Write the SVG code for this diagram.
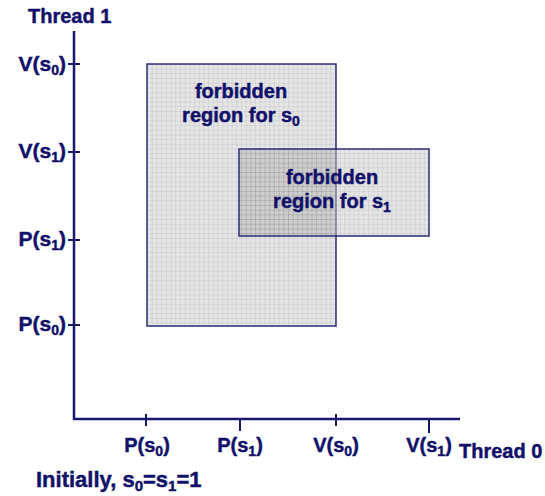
<svg xmlns="http://www.w3.org/2000/svg" width="545" height="496" viewBox="0 0 545 496">
  <style>
    text { font-family: "Liberation Sans", Arial, sans-serif; font-weight: bold; font-size: 20px; fill: #11116a; stroke: #11116a; stroke-width: 0.45; }
    .sub { font-size: 14px; }
    .lbl { font-size: 21px; }
    .axis { stroke: #17176e; stroke-width: 2.5; fill: none; }
    .tick { stroke: #17176e; stroke-width: 2; fill: none; }
    .region { stroke: #2b2b7a; stroke-width: 1.5; }
    .mid { text-anchor: middle; }
    .end { text-anchor: end; }
  </style>
  <defs>
    <pattern id="grid" patternUnits="userSpaceOnUse" x="147" y="64" width="4.7" height="4.7">
      <rect width="4.7" height="4.7" fill="#000" fill-opacity="0.1"/>
      <path d="M0 0H4.7M0 0V4.7" stroke="#000" stroke-opacity="0.16" stroke-width="0.8" fill="none"/>
    </pattern>
  </defs>
  <rect width="545" height="496" fill="#fff"/>

  <g id="region-s0">
    <rect class="region" x="147" y="64" width="189" height="262" fill="url(#grid)"/>
    <text class="mid" x="241" y="98">forbidden</text>
    <text class="mid" x="241" y="122">region for s<tspan class="sub" dy="4">0</tspan></text>
  </g>

  <g id="region-s1">
    <rect class="region" x="239" y="149" width="190" height="87" fill="url(#grid)"/>
    <line x1="336" y1="150" x2="336" y2="235" stroke="#c4c4c4" stroke-opacity="0.6" stroke-width="1.8"/>
    <text class="mid" x="332" y="184">forbidden</text>
    <text class="mid" x="332" y="208">region for s<tspan class="sub" dy="4">1</tspan></text>
  </g>

  <g id="axes">
    <path class="axis" d="M74 31V419H460"/>
    <path class="tick" d="M68 64H80M68 152H80M68 240H80M68 325H80"/>
    <path class="tick" d="M146 414V426M240 419V431M336 414V426M429 419V433"/>
  </g>

  <g id="thread1-labels">
    <text x="28" y="23">Thread 1</text>
    <text class="end lbl" x="66" y="71">V(s<tspan class="sub" dy="4">0</tspan><tspan dy="-4">)</tspan></text>
    <text class="end lbl" x="66" y="158">V(s<tspan class="sub" dy="4">1</tspan><tspan dy="-4">)</tspan></text>
    <text class="end lbl" x="66" y="246">P(s<tspan class="sub" dy="4">1</tspan><tspan dy="-4">)</tspan></text>
    <text class="end lbl" x="66" y="331">P(s<tspan class="sub" dy="4">0</tspan><tspan dy="-4">)</tspan></text>
  </g>

  <g id="thread0-labels">
    <text class="mid" x="147" y="452">P(s<tspan class="sub" dy="4">0</tspan><tspan dy="-4">)</tspan></text>
    <text class="mid" x="240" y="452">P(s<tspan class="sub" dy="4">1</tspan><tspan dy="-4">)</tspan></text>
    <text class="mid" x="336" y="452">V(s<tspan class="sub" dy="4">0</tspan><tspan dy="-4">)</tspan></text>
    <text class="mid" x="429" y="452">V(s<tspan class="sub" dy="4">1</tspan><tspan dy="-4">)</tspan></text>
    <text x="459" y="458">Thread 0</text>
  </g>

  <g id="note">
    <text x="36" y="487" style="font-size:22px">Initially, s<tspan class="sub" dy="4" style="font-size:15px">0</tspan><tspan dy="-4">=s</tspan><tspan class="sub" dy="4" style="font-size:15px">1</tspan><tspan dy="-4">=1</tspan></text>
  </g>
</svg>
